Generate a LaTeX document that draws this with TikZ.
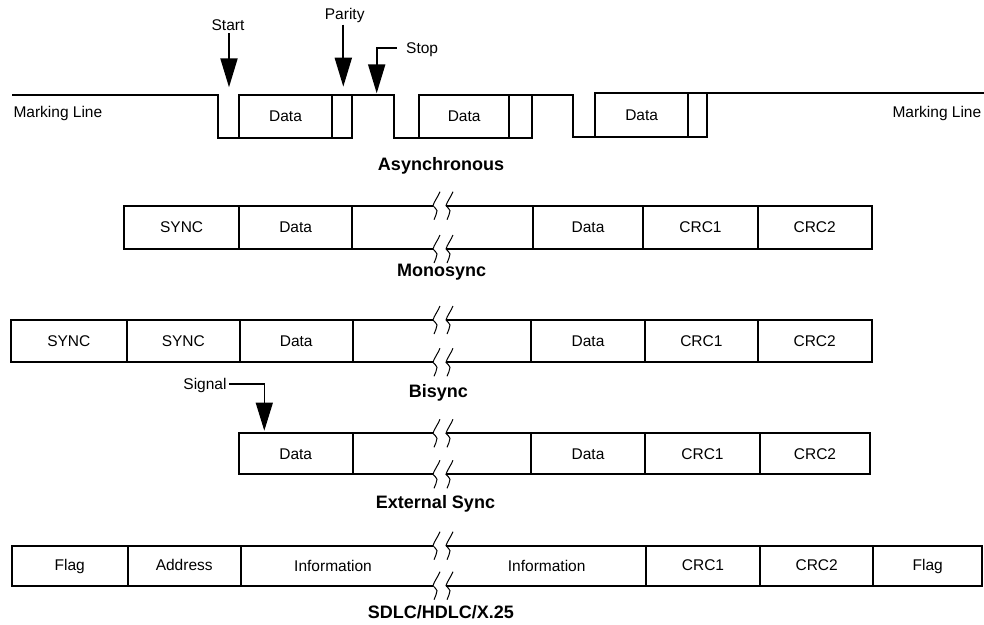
\documentclass[tikz,border=0pt]{standalone}
\usepackage{fontspec}
\setmainfont{Liberation Sans}
\usetikzlibrary{arrows.meta}
\newcommand\brkrow[2]{%
  \draw[ln] (#1.north east) -- (#1.north east -| bL);
  \draw[ln] (#1.north east -| bR) -- (#2.north west);
  \draw[ln] (#1.south east) -- (#1.south east -| bL);
  \draw[ln] (#1.south east -| bR) -- (#2.south west);
  \pic at (#1.north east -| bL) {brk};
  \pic at (#1.north east -| bR) {brk};
  \pic at (#1.south east -| bL) {brk};
  \pic at (#1.south east -| bR) {brk};
}
\begin{document}
\begin{tikzpicture}[x=1pt,y=-1pt,
  ln/.style={line width=2pt, line join=miter},
  cell/.style={draw, line width=2pt, inner sep=0pt, outer sep=0pt, text height=10.5pt, text depth=0pt, font=\fontsize{15.5}{18}\selectfont},
  lbl/.style={inner sep=2pt, font=\fontsize{15.5}{18}\selectfont},
  ttl/.style={inner sep=0pt, anchor=base, font=\fontsize{18}{21}\selectfont\bfseries},
  arr/.style={line width=2pt, -{Triangle[length=29pt,width=17pt]}},
  sarr/.style={line width=1.2pt, -{Triangle[length=28pt,width=17pt]}},
  wave/.style={line width=1pt},
  brk/.pic={\draw[wave] (7,-14) .. controls (5,-9) and (1,-4) .. (0,0) .. controls (1,2) and (4,3) .. (4,5) .. controls (4,8) and (2,11) .. (1,14);}
]
\useasboundingbox (0,0) rectangle (984,624);
\coordinate (bL) at (433,0);
\coordinate (bR) at (446,0);

% ---------- Asynchronous ----------
\node[cell, minimum width=93pt, minimum height=43pt] (d1) at (285.5,116.5) {Data};
\node[cell, minimum width=20pt, minimum height=43pt] (p1) at (342,116.5) {};
\node[cell, minimum width=90.3pt, minimum height=43pt] (d2) at (464.15,116.5) {Data};
\node[cell, minimum width=22.7pt, minimum height=43pt] (p2) at (520.65,116.5) {};
\node[cell, minimum width=93.3pt, minimum height=44pt] (d3) at (641.65,115) {Data};
\node[cell, minimum width=18.7pt, minimum height=44pt] (p3) at (697.65,115) {};
\draw[ln] (12,95) -- (218,95) -- (218,138) -- (d1.south west);
\draw[ln] (p1.north east) -- (394,95) -- (394,138) -- (d2.south west);
\draw[ln] (p2.north east) -- (573,95) -- (573,137) -- (d3.south west);
\draw[ln] (d3.north west) -- (984,93);

\node[lbl, anchor=base west, inner sep=0pt] (ml1) at (13.3,117.3) {Marking Line};
\node[lbl, anchor=base west, inner sep=0pt] (ml2) at (892.3,117) {Marking Line};

\node[lbl, anchor=base] (start) at (228,30.7) {Start};
\coordinate (startT) at (229,87.3);
\draw[arr] (start.south -| startT) -- (startT);

\node[lbl, anchor=base] (parity) at (344.7,19.3) {Parity};
\coordinate (parityT) at (343.3,86.7);
\draw[arr] (parity.south -| parityT) -- (parityT);

\node[lbl, anchor=base west, inner sep=0pt] (stop) at (406,53.3) {Stop};
\coordinate (stopT) at (376.7,93.3);
\draw[arr] ([xshift=-9.3pt,yshift=1.6pt]stop.west) -| (stopT);

\node[ttl] (t1) at (441,170.7) {Asynchronous};

% ---------- Monosync ----------
\node[cell, minimum width=114.7pt, minimum height=43.3pt] (m1) at (181.65,227.35) {SYNC};
\node[cell, minimum width=113.3pt, minimum height=43.3pt] (m2) at (295.65,227.35) {Data};
\node[cell, minimum width=110.6pt, minimum height=43.3pt] (m3) at (588,227.35) {Data};
\node[cell, minimum width=114.4pt, minimum height=43.3pt] (m4) at (700.5,227.35) {CRC1};
\node[cell, minimum width=114pt, minimum height=43.3pt] (m5) at (814.7,227.35) {CRC2};
\brkrow{m2}{m3}
\node[ttl] (t2) at (441.7,276.7) {Monosync};

% ---------- Bisync ----------
\node[cell, minimum width=116.3pt, minimum height=42.3pt] (b1) at (68.85,341.15) {SYNC};
\node[cell, minimum width=112.7pt, minimum height=42.3pt] (b2) at (183.35,341.15) {SYNC};
\node[cell, minimum width=113pt, minimum height=42.3pt] (b3) at (296.2,341.15) {Data};
\node[cell, minimum width=114pt, minimum height=42.3pt] (b4) at (588,341.15) {Data};
\node[cell, minimum width=112.7pt, minimum height=42.3pt] (b5) at (701.35,341.15) {CRC1};
\node[cell, minimum width=114pt, minimum height=42.3pt] (b6) at (814.7,341.15) {CRC2};
\brkrow{b3}{b4}
\node[ttl] (t3) at (438.3,397.3) {Bisync};

\node[lbl, anchor=base east, inner sep=0pt] (signal) at (226.7,389) {Signal};
\coordinate (signalT) at (264.3,430.7);
\draw[sarr] ([xshift=2.6pt,yshift=1pt]signal.east) -| (signalT);

% ---------- External Sync ----------
\node[cell, minimum width=114pt, minimum height=41pt] (e1) at (295.7,453.8) {Data};
\node[cell, minimum width=114pt, minimum height=41pt] (e2) at (588,453.8) {Data};
\node[cell, minimum width=115pt, minimum height=41pt] (e3) at (702.5,453.8) {CRC1};
\node[cell, minimum width=110pt, minimum height=41pt] (e4) at (815,453.8) {CRC2};
\brkrow{e1}{e2}
\node[ttl] (t4) at (435.5,508.3) {External Sync};

% ---------- SDLC/HDLC/X.25 ----------
\node[cell, minimum width=116pt, minimum height=40pt] (s1) at (69.7,565.7) {Flag};
\node[cell, minimum width=113pt, minimum height=40pt] (s2) at (184.2,565.7) {Address};
\node[cell, minimum width=114pt, minimum height=40pt] (s3) at (703,565.7) {CRC1};
\node[cell, minimum width=113.3pt, minimum height=40pt] (s4) at (816.65,565.7) {CRC2};
\node[cell, minimum width=108.7pt, minimum height=40pt] (s5) at (927.65,565.7) {Flag};
\brkrow{s2}{s3}
\node[lbl, anchor=base] (inf1) at (333,571.5) {Information};
\node[lbl, anchor=base] (inf2) at (546.7,571.5) {Information};
\node[ttl] (t5) at (440.8,618) {SDLC/HDLC/X.25};
\end{tikzpicture}
\end{document}
